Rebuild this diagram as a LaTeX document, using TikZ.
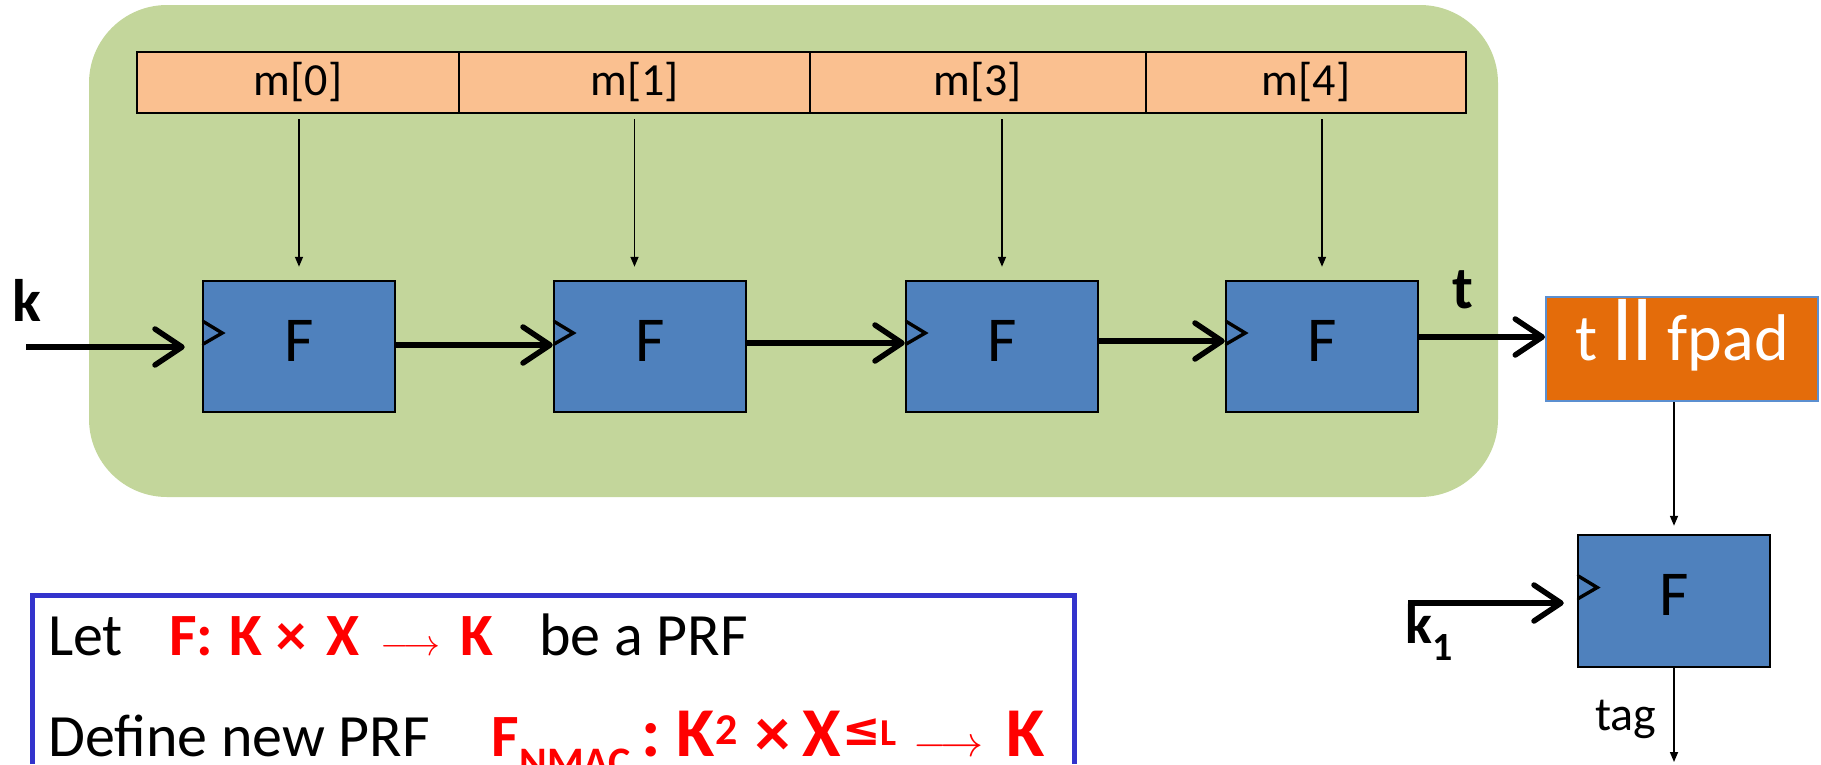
\RequirePackage{fix-cm}
\documentclass[tikz,border=0pt]{standalone}
\usepackage{fontspec}
\setmainfont{Carlito}
\newfontfamily\symfont{DejaVu Sans}
\usetikzlibrary{arrows.meta,calc}
\definecolor{macgreen}{HTML}{C3D69B}
\definecolor{msgorange}{HTML}{FAC090}
\definecolor{prfblue}{HTML}{4F81BD}
\definecolor{padorange}{HTML}{E46C0A}
\definecolor{padedge}{HTML}{5B8FD0}
\definecolor{frameblue}{HTML}{3333CC}
\definecolor{hired}{HTML}{FF0000}
\newcommand{\fsz}[1]{\fontsize{#1pt}{#1pt}\selectfont}
\begin{document}
\begin{tikzpicture}[x=1pt,y=-1pt,
  prfbox/.style={draw=black, line width=2.5pt, fill=prfblue, minimum width=192pt,
    minimum height=131pt, inner sep=0pt, font=\fsz{64}, text height=29pt, text depth=0pt},
  cell/.style={draw=black, line width=2pt, fill=msgorange, minimum height=61pt,
    inner sep=0pt, font=\fsz{46}},
  feed/.style={line width=1.6pt, -{Triangle[length=10pt,width=8pt]}},
  chain/.style={line width=5.5pt, -{Straight Barb[length=27pt,width=36pt,round]}},
  chev/.style={line width=3.4pt, line cap=round},
  keylab/.style={font=\bfseries\fsz{60}, anchor=base, inner sep=0pt},
]
\useasboundingbox (0,0) rectangle (1821,764);

% NMAC cascade region
\node[fill=macgreen, rounded corners=78pt, minimum width=1409pt, minimum height=492pt,
  inner sep=0pt] (mac) at (793.5,251) {};

% message blocks
\node[cell, minimum width=322pt]   (m0) at (298,82.5)    {m[0]};
\node[cell, minimum width=351pt]   (m1) at (634.5,82.5)  {m[1]};
\node[cell, minimum width=336.5pt] (m3) at (977.75,82.5) {m[3]};
\node[cell, minimum width=320pt]   (m4) at (1306,82.5)   {m[4]};

% PRF boxes
\node[prfbox] (f1) at (299,346.5)  {F};
\node[prfbox] (f2) at (650,346.5)  {F};
\node[prfbox] (f3) at (1002,346.5) {F};
\node[prfbox] (f4) at (1322,346.5) {F};
\node[prfbox, minimum height=132pt] (f5) at (1674,601) {F};

% key-input marks
\foreach \b in {f1,f2,f3,f4,f5}
  \draw[chev] ([shift={(1.5,-25)}]\b.west) -- ++(19,11.5) -- ++(-19,11);

% padding box
\node[draw=padedge, line width=2pt, fill=padorange, minimum width=272pt,
  minimum height=104pt, inner sep=0pt, text=white, font=\fsz{66},
  text height=23pt, text depth=0pt] (pad) at (1682,349) {t {\fsz{88}ll} fpad};

% labels
\node[keylab] (klab) at (27,321) {k};
\node[keylab] (tlab) at (1463,308) {t};
\node[keylab, anchor=base west, font=\bfseries\fsz{56}] (k1lab) at (1405,643)
  {k{\fsz{40}\raisebox{-17pt}{1}}};
\node[font=\fsz{48}, anchor=base, inner sep=0pt] (taglab) at (1626,730) {tag};

% chaining arrows
\coordinate (kin) at (26,347);
\draw[chain] (kin) -- ([xshift=-17pt]f1.west |- kin);
\draw[chain] ([yshift=1.5pt]f1.east) -- ([yshift=1.5pt]f2.west);
\draw[chain] ([yshift=3.5pt]f2.east) -- ([yshift=3.5pt]f3.west);
\draw[chain] ([yshift=5.5pt]f3.east) -- ([yshift=5.5pt]f4.west);
\draw[chain] ([yshift=9.5pt]f4.east) -- ([yshift=9.5pt]f4.east -| pad.west);
\coordinate (k1in) at (1408,603);
\draw[chain] (k1in) -- ([xshift=-13pt]f5.west |- k1in);

% message feeds
\draw[feed] ([yshift=-5pt]m0.south -| f1.north) -- ([yshift=13pt]f1.north);
\draw[feed] ([yshift=-5pt]m1.south) -- ([yshift=13pt]f2.north -| m1.south);
\draw[feed] ([yshift=-5pt]m3.south -| f3.north) -- ([yshift=13pt]f3.north);
\draw[feed] ([yshift=-5pt]m4.south -| f4.north) -- ([yshift=13pt]f4.north);
\draw[feed] (pad.south -| f5.north) -- ([yshift=8pt]f5.north);
\coordinate (tagend) at (1674,762);
\draw[feed] (f5.south) -- (tagend);

% definition frame
\draw[line width=5pt, draw=frameblue] (32,764) -- (32,595) -- (1074,595) -- (1074,764);
\node[anchor=base west, inner sep=0pt, font=\fsz{60}] (line1) at (48,655)
  {Let\hspace{46pt}{\color{hired}\bfseries F:\hspace{16pt}K\hspace{15pt}×\hspace{20pt}X\hspace{21pt}{\fsz{37}$\longrightarrow$}\hspace{20pt}K}\hspace{46pt}be a PRF};
\node[anchor=base west, inner sep=0pt, font=\fsz{60}] (line2) at (48,756)
  {Define new PRF\hspace{62pt}{\color{hired}\bfseries F\raisebox{-20pt}{\fsz{42}NMAC}\hspace{11pt}{\fsz{70}:\hspace{15pt}K\hspace{1pt}\raisebox{12pt}{\fsz{44}2}\hspace{18pt}×\hspace{12pt}X\hspace{1pt}\raisebox{11pt}{{\fsz{46}\symfont ≤}{\fsz{38}L}}\hspace{17pt}{\fsz{43}$\longrightarrow$}\hspace{23pt}K}}};
\end{tikzpicture}
\end{document}
